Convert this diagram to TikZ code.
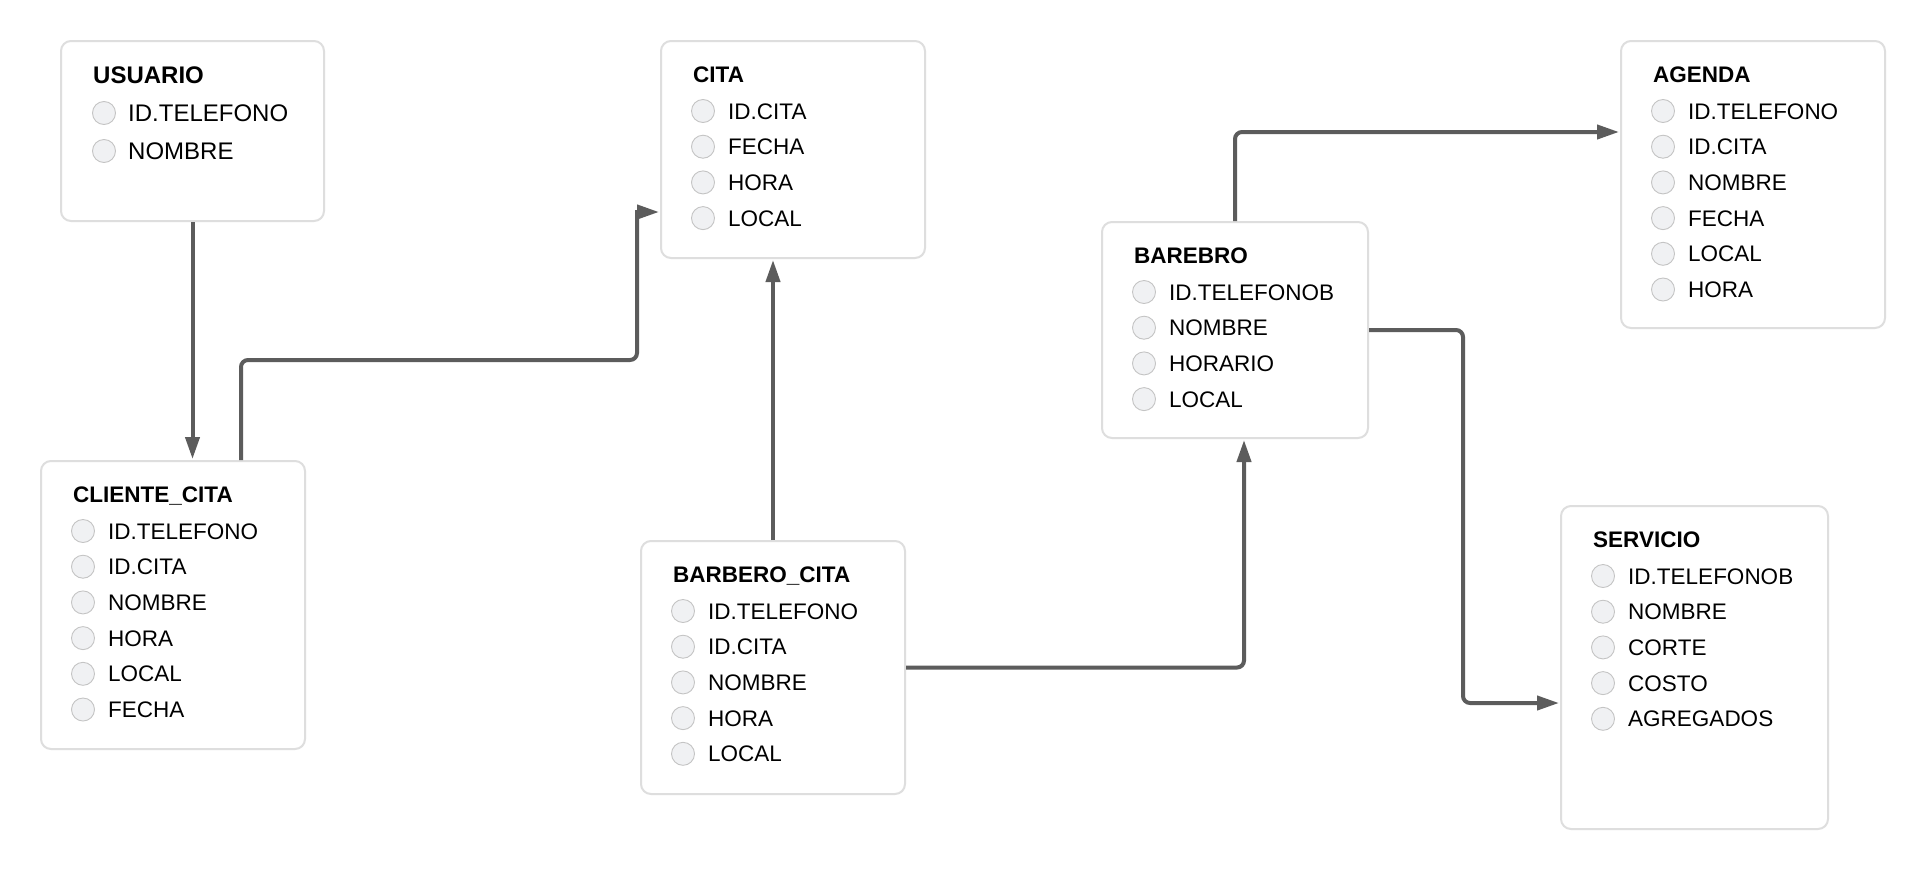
\documentclass[tikz,border=0pt]{standalone}
\usepackage{fontspec}
\setmainfont{Liberation Sans}
\usetikzlibrary{arrows.meta}
\definecolor{boxgray}{HTML}{DEDEDE}
\definecolor{dotline}{HTML}{C4C4C4}
\definecolor{dotfill}{HTML}{F0F1F3}
\definecolor{conngray}{HTML}{5C5C5C}
\tikzset{
 erbox/.style={draw=boxgray, line width=2pt, rounded corners=10pt, fill=white, inner sep=0pt, anchor=north west},
 dot/.style={circle, draw=dotline, fill=dotfill, line width=0.9pt, minimum size=23pt, inner sep=0pt},
 ttl/.style={anchor=base west, inner sep=0pt, font=\fontsize{22.5}{27}\selectfont\bfseries},
 fld/.style={anchor=base west, inner sep=0pt, font=\fontsize{22.5}{27}\selectfont},
 conn/.style={draw=conngray, line width=4pt, shorten >=1pt, -{Triangle[length=22pt,width=14pt]}}
}
\newcommand{\ertable}[6]{%
  \node[erbox, minimum width=#4pt, minimum height=#5pt] (#1) at (#2,#3) {};
  \node[ttl] (#1-t) at ([xshift=33pt,yshift=-42pt]#1.north west) {#6};
}
\newcommand{\erfields}[2]{%
  \foreach \t [count=\i from 0] in {#2} {
    \node[dot] (#1-c\i) at ([xshift=43pt,yshift={-71pt-35.7pt*\i}]#1.north west) {};
    \node[fld] (#1-f\i) at ([xshift=68pt,yshift={-79pt-35.7pt*\i}]#1.north west) {\t};
  }%
}
\begin{document}
\begin{tikzpicture}[x=1pt,y=-1pt]
\fill[white] (0,0) rectangle (1924,868);
\useasboundingbox (0,0) rectangle (1924,868);

% USUARIO (slightly larger text)
\node[erbox, minimum width=263pt, minimum height=180pt] (usu) at (60,40) {};
\node[ttl, font=\fontsize{24}{29}\selectfont\bfseries] (usu-t) at ([xshift=33pt,yshift=-43pt]usu.north west) {USUARIO};
\node[dot] (usu-c0) at ([xshift=44pt,yshift=-73pt]usu.north west) {};
\node[fld, font=\fontsize{24}{29}\selectfont] (usu-f0) at ([xshift=68pt,yshift=-81.5pt]usu.north west) {ID.TELEFONO};
\node[dot] (usu-c1) at ([xshift=44pt,yshift=-111pt]usu.north west) {};
\node[fld, font=\fontsize{24}{29}\selectfont] (usu-f1) at ([xshift=68pt,yshift=-119.5pt]usu.north west) {NOMBRE};

\ertable{cita}{660}{40}{264}{217}{CITA}
\erfields{cita}{ID.CITA,FECHA,HORA,LOCAL}

\ertable{cc}{40}{460}{264}{288}{CLIENTE\_CITA}
\erfields{cc}{ID.TELEFONO,ID.CITA,NOMBRE,HORA,LOCAL,FECHA}

\ertable{bc}{640}{540}{264}{253}{BARBERO\_CITA}
\erfields{bc}{ID.TELEFONO,ID.CITA,NOMBRE,HORA,LOCAL}

\ertable{bar}{1101}{221}{266}{216}{BAREBRO}
\erfields{bar}{ID.TELEFONOB,NOMBRE,HORARIO,LOCAL}

\ertable{age}{1620}{40}{264}{287}{AGENDA}
\erfields{age}{ID.TELEFONO,ID.CITA,NOMBRE,FECHA,LOCAL,HORA}

\ertable{ser}{1560}{505}{267}{323}{SERVICIO}
\erfields{ser}{ID.TELEFONOB,NOMBRE,CORTE,COSTO,AGREGADOS}

% bend points
\coordinate (k2) at (637,360);
\coordinate (k6) at (1463,0);

% connectors
\draw[conn] (usu.south) -- (usu.south |- cc.north);
\draw[conn] ([xshift=68pt]cc.north) [rounded corners=7pt] |- (k2) [sharp corners] |- ([yshift=-62.5pt]cita.west);
\draw[conn] (bc.north) -- (bc.north |- cita.south);
\draw[conn, rounded corners=7pt] (bc.east) -| ([xshift=9pt]bar.south);
\draw[conn, rounded corners=7pt] (bar.north) |- ([yshift=52.5pt]age.west);
\draw[conn, rounded corners=7pt] (bar.east) -- (bar.east -| k6) |- ([yshift=-35.5pt]ser.west);
\end{tikzpicture}
\end{document}
